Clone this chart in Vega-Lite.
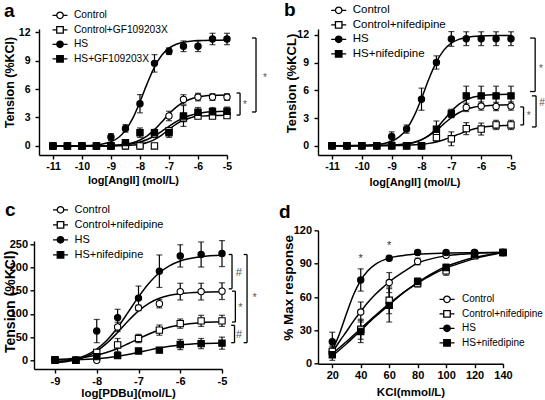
{
"$schema":"https://vega.github.io/schema/vega-lite/v6.json",
"padding":{"left":2,"top":0,"right":0,"bottom":0},
"config":{"view":{"stroke":null},"font":"Liberation Sans",
"axis":{"grid":false,"domainColor":"black","domainWidth":1.4,"tickColor":"black","tickWidth":1.4,"tickSize":4,"labelColor":"black","labelFontWeight":"bold","titleColor":"black","titleFontWeight":"bold","labelFlush":false,"labelOverlap":false},
"axisX":{"labelPadding":2,"titleBaseline":"alphabetic","labelExpr":"replace(datum.label,'\u2212','-')"},
"axisY":{"titleAngle":270,"titleBaseline":"middle","titleAlign":"center","labelExpr":"replace(datum.label,'\u2212','-')"},
"legend":{"labelColor":"black","labelFont":"Liberation Sans","rowPadding":2.5,"labelOffset":8,"padding":0,"title":null,"symbolSize":100,"symbolStrokeWidth":1.3,"symbolStrokeColor":"black",
"symbolType":{"expr":"indexof(['Control','HS'], datum.value) >= 0 ? 'M-1.5,0H-0.65M0.65,0H1.5M-0.65,0A0.65,0.65 0 1,0 0.65,0A0.65,0.65 0 1,0 -0.65,0Z' : 'M-1.5,0H-0.65M0.65,0H1.5M-0.65,-0.65H0.65V0.65H-0.65Z'"}}},
"datasets":{
"aP":[
{"s":"Control","x":-11,"y":0,"e":0},{"s":"Control","x":-10.5,"y":0,"e":0},{"s":"Control","x":-10,"y":0,"e":0},{"s":"Control","x":-9.5,"y":0,"e":0},{"s":"Control","x":-9,"y":0,"e":0},{"s":"Control","x":-8.5,"y":0,"e":0},{"s":"Control","x":-8,"y":0,"e":0},{"s":"Control","x":-7.5,"y":1.2,"e":0.3},{"s":"Control","x":-7,"y":3.16,"e":0.5},{"s":"Control","x":-6.5,"y":4.9,"e":0.5},{"s":"Control","x":-6,"y":5.15,"e":0.4},{"s":"Control","x":-5.5,"y":5.15,"e":0.35},{"s":"Control","x":-5,"y":5.15,"e":0.35},
{"s":"Control+GF109203X","x":-11,"y":0,"e":0},{"s":"Control+GF109203X","x":-10.5,"y":0,"e":0},{"s":"Control+GF109203X","x":-10,"y":0,"e":0},{"s":"Control+GF109203X","x":-9.5,"y":0,"e":0},{"s":"Control+GF109203X","x":-9,"y":0,"e":0},{"s":"Control+GF109203X","x":-8.5,"y":0,"e":0},{"s":"Control+GF109203X","x":-8,"y":0,"e":0},{"s":"Control+GF109203X","x":-7.5,"y":0,"e":0},{"s":"Control+GF109203X","x":-7,"y":1.6,"e":0.3},{"s":"Control+GF109203X","x":-6.5,"y":2.95,"e":0.4},{"s":"Control+GF109203X","x":-6,"y":3.15,"e":0.25},{"s":"Control+GF109203X","x":-5.5,"y":3.15,"e":0.25},{"s":"Control+GF109203X","x":-5,"y":3.2,"e":0.25},
{"s":"HS","x":-11,"y":0,"e":0},{"s":"HS","x":-10.5,"y":0,"e":0},{"s":"HS","x":-10,"y":0,"e":0},{"s":"HS","x":-9.5,"y":0,"e":0},{"s":"HS","x":-9,"y":0.95,"e":0.35},{"s":"HS","x":-8.5,"y":1.85,"e":0.4},{"s":"HS","x":-8,"y":4.45,"e":0.96},{"s":"HS","x":-7.5,"y":8.7,"e":0.92},{"s":"HS","x":-7,"y":9.98,"e":0.35},{"s":"HS","x":-6.5,"y":10.5,"e":0.56},{"s":"HS","x":-6,"y":10.5,"e":0.56},{"s":"HS","x":-5.5,"y":11.27,"e":0.6},{"s":"HS","x":-5,"y":11.27,"e":0.6},
{"s":"HS+GF109203X","x":-11,"y":0,"e":0},{"s":"HS+GF109203X","x":-10.5,"y":0,"e":0},{"s":"HS+GF109203X","x":-10,"y":0,"e":0},{"s":"HS+GF109203X","x":-9.5,"y":0,"e":0},{"s":"HS+GF109203X","x":-9,"y":0,"e":0},{"s":"HS+GF109203X","x":-8.5,"y":0.35,"e":0.2},{"s":"HS+GF109203X","x":-8,"y":1.4,"e":0.5},{"s":"HS+GF109203X","x":-7.5,"y":1.4,"e":0.35},{"s":"HS+GF109203X","x":-7,"y":1.4,"e":0.5},{"s":"HS+GF109203X","x":-6.5,"y":3.16,"e":1.1},{"s":"HS+GF109203X","x":-6,"y":3.55,"e":0.5},{"s":"HS+GF109203X","x":-5.5,"y":3.6,"e":0.45},{"s":"HS+GF109203X","x":-5,"y":3.65,"e":0.45}],
"aC":[
{"s":"HS","x":-11,"y":0},{"s":"HS","x":-10,"y":0.03},{"s":"HS","x":-9.5,"y":0.11},{"s":"HS","x":-9.25,"y":0.23},{"s":"HS","x":-9,"y":0.45},{"s":"HS","x":-8.75,"y":0.87},{"s":"HS","x":-8.5,"y":1.64},{"s":"HS","x":-8.25,"y":2.9},{"s":"HS","x":-8,"y":4.64},{"s":"HS","x":-7.75,"y":6.59},{"s":"HS","x":-7.5,"y":8.31},{"s":"HS","x":-7.25,"y":9.55},{"s":"HS","x":-7,"y":10.3},{"s":"HS","x":-6.75,"y":10.71},{"s":"HS","x":-6.5,"y":10.93},{"s":"HS","x":-6.25,"y":11.04},{"s":"HS","x":-6,"y":11.1},{"s":"HS","x":-5.5,"y":11.14},{"s":"HS","x":-5,"y":11.15},
{"s":"Control","x":-11,"y":0},{"s":"Control","x":-10,"y":0.01},{"s":"Control","x":-9,"y":0.06},{"s":"Control","x":-8.5,"y":0.19},{"s":"Control","x":-8.25,"y":0.35},{"s":"Control","x":-8,"y":0.63},{"s":"Control","x":-7.75,"y":1.07},{"s":"Control","x":-7.5,"y":1.72},{"s":"Control","x":-7.25,"y":2.53},{"s":"Control","x":-7,"y":3.37},{"s":"Control","x":-6.75,"y":4.09},{"s":"Control","x":-6.5,"y":4.62},{"s":"Control","x":-6.25,"y":4.95},{"s":"Control","x":-6,"y":5.15},{"s":"Control","x":-5.5,"y":5.33},{"s":"Control","x":-5,"y":5.38},
{"s":"Control+GF109203X","x":-11,"y":0},{"s":"Control+GF109203X","x":-9,"y":0.01},{"s":"Control+GF109203X","x":-8.5,"y":0.04},{"s":"Control+GF109203X","x":-8,"y":0.18},{"s":"Control+GF109203X","x":-7.75,"y":0.36},{"s":"Control+GF109203X","x":-7.5,"y":0.67},{"s":"Control+GF109203X","x":-7.25,"y":1.15},{"s":"Control+GF109203X","x":-7,"y":1.75},{"s":"Control+GF109203X","x":-6.75,"y":2.31},{"s":"Control+GF109203X","x":-6.5,"y":2.72},{"s":"Control+GF109203X","x":-6.25,"y":2.98},{"s":"Control+GF109203X","x":-6,"y":3.12},{"s":"Control+GF109203X","x":-5.5,"y":3.22},{"s":"Control+GF109203X","x":-5,"y":3.24},
{"s":"HS+GF109203X","x":-11,"y":0},{"s":"HS+GF109203X","x":-10,"y":0},{"s":"HS+GF109203X","x":-9.5,"y":0.02},{"s":"HS+GF109203X","x":-9,"y":0.05},{"s":"HS+GF109203X","x":-8.5,"y":0.14},{"s":"HS+GF109203X","x":-8,"y":0.41},{"s":"HS+GF109203X","x":-7.75,"y":0.68},{"s":"HS+GF109203X","x":-7.5,"y":1.05},{"s":"HS+GF109203X","x":-7.25,"y":1.53},{"s":"HS+GF109203X","x":-7,"y":2.06},{"s":"HS+GF109203X","x":-6.75,"y":2.56},{"s":"HS+GF109203X","x":-6.5,"y":2.96},{"s":"HS+GF109203X","x":-6.25,"y":3.24},{"s":"HS+GF109203X","x":-6,"y":3.43},{"s":"HS+GF109203X","x":-5.5,"y":3.61},{"s":"HS+GF109203X","x":-5,"y":3.67}],
"aB":[
{"x":-4.0,"x2":-4.0,"y":11.37,"y2":3.58},{"x":-4.14,"x2":-4.0,"y":11.37,"y2":11.37},{"x":-4.14,"x2":-4.0,"y":3.58,"y2":3.58},
{"x":-4.55,"x2":-4.55,"y":5.58,"y2":3.26},{"x":-4.67,"x2":-4.55,"y":5.58,"y2":5.58},{"x":-4.67,"x2":-4.55,"y":3.26,"y2":3.26}],
"aT":[{"x":-3.69,"y":7.37,"t":"*"},{"x":-4.38,"y":4.5,"t":"*"}],
"aL":[{"x":-12.69,"y":13.58,"t":"a"}],
"bP":[
{"s":"Control","x":-11,"y":0,"e":0},{"s":"Control","x":-10.5,"y":0,"e":0},{"s":"Control","x":-10,"y":0,"e":0},{"s":"Control","x":-9.5,"y":0,"e":0},{"s":"Control","x":-9,"y":0,"e":0},{"s":"Control","x":-8.5,"y":0,"e":0},{"s":"Control","x":-8,"y":0,"e":0},{"s":"Control","x":-7.5,"y":1.3,"e":0.3},{"s":"Control","x":-7,"y":3.4,"e":0.35},{"s":"Control","x":-6.5,"y":4.15,"e":0.45},{"s":"Control","x":-6,"y":4.3,"e":0.45},{"s":"Control","x":-5.5,"y":4.25,"e":0.45},{"s":"Control","x":-5,"y":4.3,"e":0.45},
{"s":"Control+nifedipine","x":-11,"y":0,"e":0},{"s":"Control+nifedipine","x":-10.5,"y":0,"e":0},{"s":"Control+nifedipine","x":-10,"y":0,"e":0},{"s":"Control+nifedipine","x":-9.5,"y":0,"e":0},{"s":"Control+nifedipine","x":-9,"y":0,"e":0},{"s":"Control+nifedipine","x":-8.5,"y":0,"e":0},{"s":"Control+nifedipine","x":-8,"y":0,"e":0},{"s":"Control+nifedipine","x":-7.5,"y":0.87,"e":0.4},{"s":"Control+nifedipine","x":-7,"y":0.75,"e":0.75},{"s":"Control+nifedipine","x":-6.5,"y":1.85,"e":0.65},{"s":"Control+nifedipine","x":-6,"y":1.8,"e":0.65},{"s":"Control+nifedipine","x":-5.5,"y":2.25,"e":0.5},{"s":"Control+nifedipine","x":-5,"y":2.25,"e":0.5},
{"s":"HS","x":-11,"y":0,"e":0},{"s":"HS","x":-10.5,"y":0,"e":0},{"s":"HS","x":-10,"y":0,"e":0},{"s":"HS","x":-9.5,"y":0,"e":0},{"s":"HS","x":-9,"y":1.0,"e":0.5},{"s":"HS","x":-8.5,"y":1.8,"e":0.45},{"s":"HS","x":-8,"y":5.04,"e":1.2},{"s":"HS","x":-7.5,"y":9.02,"e":0.72},{"s":"HS","x":-7,"y":11.57,"e":0.8},{"s":"HS","x":-6.5,"y":11.6,"e":0.75},{"s":"HS","x":-6,"y":11.6,"e":0.75},{"s":"HS","x":-5.5,"y":11.6,"e":0.75},{"s":"HS","x":-5,"y":11.6,"e":0.75},
{"s":"HS+nifedipine","x":-11,"y":0,"e":0},{"s":"HS+nifedipine","x":-10.5,"y":0,"e":0},{"s":"HS+nifedipine","x":-10,"y":0,"e":0},{"s":"HS+nifedipine","x":-9.5,"y":0,"e":0},{"s":"HS+nifedipine","x":-9,"y":0,"e":0},{"s":"HS+nifedipine","x":-8.5,"y":0,"e":0},{"s":"HS+nifedipine","x":-8,"y":0,"e":0},{"s":"HS+nifedipine","x":-7.5,"y":1.78,"e":0.9},{"s":"HS+nifedipine","x":-7,"y":3.5,"e":0.45},{"s":"HS+nifedipine","x":-6.5,"y":5.4,"e":1.05},{"s":"HS+nifedipine","x":-6,"y":5.4,"e":1.05},{"s":"HS+nifedipine","x":-5.5,"y":5.4,"e":1.05},{"s":"HS+nifedipine","x":-5,"y":5.4,"e":1.05}],
"bC":[
{"s":"HS","x":-11,"y":0},{"s":"HS","x":-10,"y":0.03},{"s":"HS","x":-9.5,"y":0.12},{"s":"HS","x":-9.25,"y":0.24},{"s":"HS","x":-9,"y":0.48},{"s":"HS","x":-8.75,"y":0.95},{"s":"HS","x":-8.5,"y":1.8},{"s":"HS","x":-8.25,"y":3.2},{"s":"HS","x":-8,"y":5.12},{"s":"HS","x":-7.75,"y":7.25},{"s":"HS","x":-7.5,"y":9.08},{"s":"HS","x":-7.25,"y":10.36},{"s":"HS","x":-7,"y":11.12},{"s":"HS","x":-6.75,"y":11.53},{"s":"HS","x":-6.5,"y":11.74},{"s":"HS","x":-6,"y":11.9},{"s":"HS","x":-5.5,"y":11.94},{"s":"HS","x":-5,"y":11.95},
{"s":"HS+nifedipine","x":-11,"y":0},{"s":"HS+nifedipine","x":-10,"y":0},{"s":"HS+nifedipine","x":-9,"y":0.04},{"s":"HS+nifedipine","x":-8.5,"y":0.17},{"s":"HS+nifedipine","x":-8.25,"y":0.33},{"s":"HS+nifedipine","x":-8,"y":0.63},{"s":"HS+nifedipine","x":-7.75,"y":1.12},{"s":"HS+nifedipine","x":-7.5,"y":1.87},{"s":"HS+nifedipine","x":-7.25,"y":2.8},{"s":"HS+nifedipine","x":-7,"y":3.73},{"s":"HS+nifedipine","x":-6.75,"y":4.48},{"s":"HS+nifedipine","x":-6.5,"y":4.97},{"s":"HS+nifedipine","x":-6.25,"y":5.27},{"s":"HS+nifedipine","x":-6,"y":5.43},{"s":"HS+nifedipine","x":-5.5,"y":5.56},{"s":"HS+nifedipine","x":-5,"y":5.59},
{"s":"Control","x":-11,"y":0},{"s":"Control","x":-10,"y":0.01},{"s":"Control","x":-9,"y":0.06},{"s":"Control","x":-8.5,"y":0.2},{"s":"Control","x":-8.25,"y":0.37},{"s":"Control","x":-8,"y":0.65},{"s":"Control","x":-7.75,"y":1.08},{"s":"Control","x":-7.5,"y":1.67},{"s":"Control","x":-7.25,"y":2.37},{"s":"Control","x":-7,"y":3.03},{"s":"Control","x":-6.75,"y":3.57},{"s":"Control","x":-6.5,"y":3.93},{"s":"Control","x":-6.25,"y":4.16},{"s":"Control","x":-6,"y":4.29},{"s":"Control","x":-5.5,"y":4.4},{"s":"Control","x":-5,"y":4.44},
{"s":"Control+nifedipine","x":-11,"y":0},{"s":"Control+nifedipine","x":-10,"y":0},{"s":"Control+nifedipine","x":-9,"y":0.02},{"s":"Control+nifedipine","x":-8.5,"y":0.05},{"s":"Control+nifedipine","x":-8,"y":0.15},{"s":"Control+nifedipine","x":-7.75,"y":0.25},{"s":"Control+nifedipine","x":-7.5,"y":0.41},{"s":"Control+nifedipine","x":-7.25,"y":0.64},{"s":"Control+nifedipine","x":-7,"y":0.93},{"s":"Control+nifedipine","x":-6.75,"y":1.25},{"s":"Control+nifedipine","x":-6.5,"y":1.55},{"s":"Control+nifedipine","x":-6.25,"y":1.8},{"s":"Control+nifedipine","x":-6,"y":1.97},{"s":"Control+nifedipine","x":-5.5,"y":2.15},{"s":"Control+nifedipine","x":-5,"y":2.22}],
"bB":[
{"x":-4.19,"x2":-4.19,"y":11.67,"y2":5.87},{"x":-4.36,"x2":-4.19,"y":11.67,"y2":11.67},{"x":-4.36,"x2":-4.19,"y":5.87,"y2":5.87},
{"x":-4.58,"x2":-4.58,"y":4.2,"y2":2.25},{"x":-4.69,"x2":-4.58,"y":4.2,"y2":4.2},{"x":-4.69,"x2":-4.58,"y":2.25,"y2":2.25},
{"x":-4.16,"x2":-4.16,"y":5.4,"y2":2.03},{"x":-4.3,"x2":-4.16,"y":5.4,"y2":5.4},{"x":-4.3,"x2":-4.16,"y":2.03,"y2":2.03}],
"bT":[{"x":-4.0,"y":8.55,"t":"*"},{"x":-4.41,"y":3.48,"t":"*"},{"x":-3.96,"y":4.86,"t":"#"}],
"bL":[{"x":-12.61,"y":14.06,"t":"b"}],
"cP":[
{"s":"Control","x":-9,"y":0,"e":0},{"s":"Control","x":-8.5,"y":0,"e":0},{"s":"Control","x":-8,"y":0,"e":0},{"s":"Control","x":-7.5,"y":72,"e":10},{"s":"Control","x":-7,"y":113,"e":6},{"s":"Control","x":-6.5,"y":122,"e":9},{"s":"Control","x":-6,"y":148,"e":18},{"s":"Control","x":-5.5,"y":148,"e":18},{"s":"Control","x":-5,"y":149,"e":18},
{"s":"Control+nifedipine","x":-9,"y":0,"e":0},{"s":"Control+nifedipine","x":-8.5,"y":0,"e":0},{"s":"Control+nifedipine","x":-8,"y":17,"e":4},{"s":"Control+nifedipine","x":-7.5,"y":33,"e":14},{"s":"Control+nifedipine","x":-7,"y":47,"e":9},{"s":"Control+nifedipine","x":-6.5,"y":65,"e":11},{"s":"Control+nifedipine","x":-6,"y":79,"e":10},{"s":"Control+nifedipine","x":-5.5,"y":85,"e":12},{"s":"Control+nifedipine","x":-5,"y":85,"e":12},
{"s":"HS","x":-9,"y":1,"e":0},{"s":"HS","x":-8.5,"y":0,"e":0},{"s":"HS","x":-8,"y":63,"e":25},{"s":"HS","x":-7.5,"y":92,"e":18},{"s":"HS","x":-7,"y":134,"e":26},{"s":"HS","x":-6.5,"y":192,"e":35},{"s":"HS","x":-6,"y":225,"e":24},{"s":"HS","x":-5.5,"y":228,"e":27},{"s":"HS","x":-5,"y":230,"e":28},
{"s":"HS+nifedipine","x":-9,"y":1,"e":0},{"s":"HS+nifedipine","x":-8.5,"y":0,"e":0},{"s":"HS+nifedipine","x":-8,"y":8,"e":2},{"s":"HS+nifedipine","x":-7.5,"y":10,"e":3},{"s":"HS+nifedipine","x":-7,"y":20,"e":3},{"s":"HS+nifedipine","x":-6.5,"y":22,"e":3},{"s":"HS+nifedipine","x":-6,"y":34,"e":11},{"s":"HS+nifedipine","x":-5.5,"y":36,"e":11},{"s":"HS+nifedipine","x":-5,"y":37,"e":13}],
"cC":[
{"s":"HS","x":-9,"y":-4.3},{"s":"HS","x":-8.75,"y":-1.5},{"s":"HS","x":-8.5,"y":3.3},{"s":"HS","x":-8.25,"y":11.3},{"s":"HS","x":-8,"y":24.3},{"s":"HS","x":-7.75,"y":43.9},{"s":"HS","x":-7.5,"y":70.7},{"s":"HS","x":-7.25,"y":103.3},{"s":"HS","x":-7,"y":136.7},{"s":"HS","x":-6.75,"y":166.2},{"s":"HS","x":-6.5,"y":188.7},{"s":"HS","x":-6.25,"y":204.2},{"s":"HS","x":-6,"y":214},{"s":"HS","x":-5.5,"y":223.4},{"s":"HS","x":-5,"y":226.5},
{"s":"Control","x":-9,"y":-5.3},{"s":"Control","x":-8.75,"y":-3},{"s":"Control","x":-8.5,"y":1.1},{"s":"Control","x":-8.25,"y":8.2},{"s":"Control","x":-8,"y":20},{"s":"Control","x":-7.75,"y":37.5},{"s":"Control","x":-7.5,"y":60.1},{"s":"Control","x":-7.25,"y":84.6},{"s":"Control","x":-7,"y":106.4},{"s":"Control","x":-6.75,"y":122.8},{"s":"Control","x":-6.5,"y":133.6},{"s":"Control","x":-6.25,"y":140},{"s":"Control","x":-6,"y":143.6},{"s":"Control","x":-5.5,"y":146.7},{"s":"Control","x":-5,"y":147.6},
{"s":"Control+nifedipine","x":-9,"y":1.6},{"s":"Control+nifedipine","x":-8.5,"y":4.4},{"s":"Control+nifedipine","x":-8.25,"y":7.1},{"s":"Control+nifedipine","x":-8,"y":11.3},{"s":"Control+nifedipine","x":-7.75,"y":17.3},{"s":"Control+nifedipine","x":-7.5,"y":25.5},{"s":"Control+nifedipine","x":-7.25,"y":35.6},{"s":"Control+nifedipine","x":-7,"y":46.3},{"s":"Control+nifedipine","x":-6.75,"y":56.6},{"s":"Control+nifedipine","x":-6.5,"y":65.2},{"s":"Control+nifedipine","x":-6.25,"y":71.7},{"s":"Control+nifedipine","x":-6,"y":76.2},{"s":"Control+nifedipine","x":-5.5,"y":81.1},{"s":"Control+nifedipine","x":-5,"y":82.9},
{"s":"HS+nifedipine","x":-9,"y":0.5},{"s":"HS+nifedipine","x":-8.5,"y":1.3},{"s":"HS+nifedipine","x":-8,"y":3.5},{"s":"HS+nifedipine","x":-7.75,"y":5.6},{"s":"HS+nifedipine","x":-7.5,"y":8.5},{"s":"HS+nifedipine","x":-7.25,"y":12.4},{"s":"HS+nifedipine","x":-7,"y":17},{"s":"HS+nifedipine","x":-6.75,"y":21.9},{"s":"HS+nifedipine","x":-6.5,"y":26.4},{"s":"HS+nifedipine","x":-6.25,"y":30.2},{"s":"HS+nifedipine","x":-6,"y":32.9},{"s":"HS+nifedipine","x":-5.5,"y":36},{"s":"HS+nifedipine","x":-5,"y":37.3}],
"cB":[
{"x":-4.76,"x2":-4.76,"y":228,"y2":154},{"x":-4.84,"x2":-4.76,"y":228,"y2":228},{"x":-4.84,"x2":-4.76,"y":154,"y2":154},
{"x":-4.68,"x2":-4.68,"y":149,"y2":82.5},{"x":-4.76,"x2":-4.68,"y":149,"y2":149},{"x":-4.76,"x2":-4.68,"y":82.5,"y2":82.5},
{"x":-4.7,"x2":-4.7,"y":75.4,"y2":38},{"x":-4.78,"x2":-4.7,"y":75.4,"y2":75.4},{"x":-4.78,"x2":-4.7,"y":38,"y2":38},
{"x":-4.4,"x2":-4.4,"y":228,"y2":38},{"x":-4.48,"x2":-4.4,"y":228,"y2":228},{"x":-4.48,"x2":-4.4,"y":38,"y2":38}],
"cT":[{"x":-4.6,"y":192,"t":"#"},{"x":-4.56,"y":117,"t":"*"},{"x":-4.59,"y":59.5,"t":"#"},{"x":-4.22,"y":138.6,"t":"*"}],
"cL":[{"x":-10.2,"y":311,"t":"c"}],
"dP":[
{"s":"Control","x":20,"y":11,"e":4},{"s":"Control","x":40,"y":46.5,"e":9},{"s":"Control","x":60,"y":73,"e":9},{"s":"Control","x":80,"y":92,"e":3},{"s":"Control","x":100,"y":97.5,"e":1.5},{"s":"Control","x":120,"y":100,"e":0},{"s":"Control","x":140,"y":100,"e":0},
{"s":"Control+nifedipine","x":20,"y":11,"e":5},{"s":"Control+nifedipine","x":40,"y":31,"e":9},{"s":"Control+nifedipine","x":60,"y":57,"e":12},{"s":"Control+nifedipine","x":80,"y":72,"e":3},{"s":"Control+nifedipine","x":100,"y":83.5,"e":4},{"s":"Control+nifedipine","x":120,"y":97,"e":1},{"s":"Control+nifedipine","x":140,"y":100,"e":0},
{"s":"HS","x":20,"y":19.8,"e":8.5},{"s":"HS","x":40,"y":75.3,"e":10},{"s":"HS","x":60,"y":94.8,"e":2},{"s":"HS","x":80,"y":100,"e":0},{"s":"HS","x":100,"y":100,"e":0},{"s":"HS","x":120,"y":100,"e":0},{"s":"HS","x":140,"y":100,"e":0},
{"s":"HS+nifedipine","x":20,"y":8,"e":5},{"s":"HS+nifedipine","x":40,"y":29,"e":10},{"s":"HS+nifedipine","x":60,"y":52.5,"e":15},{"s":"HS+nifedipine","x":80,"y":74,"e":3},{"s":"HS+nifedipine","x":100,"y":86.5,"e":3},{"s":"HS+nifedipine","x":120,"y":98,"e":1},{"s":"HS+nifedipine","x":140,"y":100,"e":0}],
"dC":[
{"s":"HS","x":20,"y":11.8},{"s":"HS","x":25,"y":26.7},{"s":"HS","x":30,"y":45.2},{"s":"HS","x":35,"y":62.3},{"s":"HS","x":40,"y":75},{"s":"HS","x":45,"y":83.7},{"s":"HS","x":50,"y":89.2},{"s":"HS","x":60,"y":95},{"s":"HS","x":70,"y":97.4},{"s":"HS","x":80,"y":98.6},{"s":"HS","x":100,"y":99.5},{"s":"HS","x":120,"y":99.8},{"s":"HS","x":140,"y":100},
{"s":"Control","x":20,"y":10},{"s":"Control","x":25,"y":20},{"s":"Control","x":30,"y":29},{"s":"Control","x":35,"y":38.5},{"s":"Control","x":40,"y":47},{"s":"Control","x":45,"y":55},{"s":"Control","x":50,"y":62},{"s":"Control","x":55,"y":68},{"s":"Control","x":60,"y":73.5},{"s":"Control","x":70,"y":82.5},{"s":"Control","x":80,"y":90.5},{"s":"Control","x":90,"y":94.5},{"s":"Control","x":100,"y":97},{"s":"Control","x":110,"y":98.4},{"s":"Control","x":120,"y":99.2},{"s":"Control","x":130,"y":99.7},{"s":"Control","x":140,"y":100},
{"s":"Control+nifedipine","x":20,"y":9},{"s":"Control+nifedipine","x":30,"y":20},{"s":"Control+nifedipine","x":40,"y":31.5},{"s":"Control+nifedipine","x":50,"y":43},{"s":"Control+nifedipine","x":60,"y":54},{"s":"Control+nifedipine","x":70,"y":64},{"s":"Control+nifedipine","x":80,"y":72.5},{"s":"Control+nifedipine","x":90,"y":80},{"s":"Control+nifedipine","x":100,"y":86},{"s":"Control+nifedipine","x":110,"y":90.5},{"s":"Control+nifedipine","x":120,"y":94.5},{"s":"Control+nifedipine","x":130,"y":97.5},{"s":"Control+nifedipine","x":140,"y":100},
{"s":"HS+nifedipine","x":20,"y":7},{"s":"HS+nifedipine","x":30,"y":18},{"s":"HS+nifedipine","x":40,"y":30},{"s":"HS+nifedipine","x":50,"y":42},{"s":"HS+nifedipine","x":60,"y":53},{"s":"HS+nifedipine","x":70,"y":64},{"s":"HS+nifedipine","x":80,"y":73},{"s":"HS+nifedipine","x":90,"y":81},{"s":"HS+nifedipine","x":100,"y":87.5},{"s":"HS+nifedipine","x":110,"y":92},{"s":"HS+nifedipine","x":120,"y":95.5},{"s":"HS+nifedipine","x":130,"y":98},{"s":"HS+nifedipine","x":140,"y":100}],
"dT":[{"x":40,"y":96,"t":"*"},{"x":60,"y":107.4,"t":"*"}],
"dL":[{"x":-17.5,"y":131.4,"t":"d"}]
},
"columns":2,
"spacing":{"row":75.3,"column":91},
"bounds":"flush",
"resolve":{"scale":{"shape":"independent","fill":"independent","x":"independent","y":"independent"},"legend":{"shape":"independent","fill":"independent"}},
"concat":[
{"width":193,"height":126,
"encoding":{
"x":{"field":"x","type":"quantitative","scale":{"domain":[-11.48,-5],"nice":false,"zero":false,"range":[5,193]},"axis":{"values":[-11,-10,-9,-8,-7,-6,-5],"title":"log[AngII] (mol/L)","labelFontSize":10.5,"titleFontSize":11,"titleY":28}},
"y":{"field":"y","type":"quantitative","scale":{"domain":[-0.95,12.32],"nice":false,"zero":false},"axis":{"values":[0,3,6,9,12],"title":"Tension (%KCl)","labelFontSize":10.5,"labelPadding":5,"offset":-5,"titleFontSize":12.5,"titleX":-30,"titleY":53}}},
"layer":[
{"data":{"name":"aC"},"mark":{"type":"line","interpolate":"monotone","color":"black","strokeWidth":1.5},"encoding":{"detail":{"field":"s"}}},
{"data":{"values":[{}]},"mark":{"type":"rule","strokeDash":[3,2],"color":"black","strokeWidth":1.2},"encoding":{"x":{"datum":-11.48},"x2":{"datum":-5},"y":{"datum":0}}},
{"data":{"name":"aP"},"transform":[{"filter":"datum.e>0"}],"mark":{"type":"errorbar","ticks":{"size":6,"color":"black"},"color":"black","thickness":1.2},"encoding":{"yError":{"field":"e"}}},
{"data":{"name":"aP"},"mark":{"type":"point","filled":true,"stroke":"black","strokeWidth":1.1,"opacity":1,"size":40},
"encoding":{
"shape":{"field":"s","type":"nominal","scale":{"domain":["HS","HS+GF109203X","Control","Control+GF109203X"],"range":["circle","square","circle","square"]},"legend":null},
"fill":{"field":"s","type":"nominal","scale":{"domain":["Control","Control+GF109203X","HS","HS+GF109203X"],"range":["white","white","black","black"]},"legend":{"orient":"none","legendX":20,"legendY":-19.7,"labelFontSize":10.2}}}},
{"data":{"name":"aB"},"mark":{"type":"rule","color":"black","strokeWidth":1.3},"encoding":{"x2":{"field":"x2"},"y2":{"field":"y2"}}},
{"data":{"name":"aT"},"mark":{"type":"text","fontSize":10,"color":"#555","baseline":"middle","dy":2},"encoding":{"text":{"field":"t"}}},
{"data":{"name":"aL"},"mark":{"type":"text","fontSize":19,"fontWeight":"bold","color":"black","align":"left","baseline":"alphabetic"},"encoding":{"text":{"field":"t"}}}
]},
{"width":193,"height":126,
"encoding":{
"x":{"field":"x","type":"quantitative","scale":{"domain":[-11.47,-5],"nice":false,"zero":false},"axis":{"values":[-11,-10,-9,-8,-7,-6,-5],"title":"log[AngII] (mol/L)","labelFontSize":10.5,"titleFontSize":11,"titleY":30}},
"y":{"field":"y","type":"quantitative","scale":{"domain":[-1.01,12.65],"nice":false,"zero":false},"axis":{"values":[0,3,6,9,12],"title":"Tension (%KCL)","labelFontSize":10.5,"labelPadding":5.5,"titleFontSize":13,"titleX":-27,"titleY":54}}},
"layer":[
{"data":{"name":"bC"},"mark":{"type":"line","interpolate":"monotone","color":"black","strokeWidth":1.5},"encoding":{"detail":{"field":"s"}}},
{"data":{"values":[{}]},"mark":{"type":"rule","strokeDash":[1.5,1.5],"color":"#aaaaaa","strokeWidth":1.2},"encoding":{"x":{"datum":-11},"x2":{"datum":-5},"y":{"datum":0}}},
{"data":{"name":"bP"},"transform":[{"filter":"datum.e>0"}],"mark":{"type":"errorbar","ticks":{"size":6,"color":"black"},"color":"black","thickness":1.2},"encoding":{"yError":{"field":"e"}}},
{"data":{"name":"bP"},"mark":{"type":"point","filled":true,"stroke":"black","strokeWidth":1.1,"opacity":1,"size":40},
"encoding":{
"shape":{"field":"s","type":"nominal","scale":{"domain":["HS","HS+nifedipine","Control","Control+nifedipine"],"range":["circle","square","circle","square"]},"legend":null},
"fill":{"field":"s","type":"nominal","scale":{"domain":["Control","Control+nifedipine","HS","HS+nifedipine"],"range":["white","white","black","black"]},"legend":{"orient":"none","legendX":14.7,"legendY":-24.7,"labelFontSize":11.5}}}},
{"data":{"name":"bB"},"mark":{"type":"rule","color":"black","strokeWidth":1.3},"encoding":{"x2":{"field":"x2"},"y2":{"field":"y2"}}},
{"data":{"name":"bT"},"mark":{"type":"text","fontSize":10,"color":"#555","baseline":"middle","dy":2},"encoding":{"text":{"field":"t"}}},
{"data":{"name":"bL"},"mark":{"type":"text","fontSize":19,"fontWeight":"bold","color":"black","align":"left","baseline":"alphabetic"},"encoding":{"text":{"field":"t"}}}
]},
{"width":188,"height":138.7,
"encoding":{
"x":{"field":"x","type":"quantitative","scale":{"domain":[-9.503,-5],"nice":false,"zero":false},"axis":{"values":[-9,-8,-7,-6,-5],"title":"log[PDBu](mol/L)","labelFontSize":11,"titleFontSize":11.5,"titleY":27.5}},
"y":{"field":"y","type":"quantitative","scale":{"domain":[-18.75,257.1],"nice":false,"zero":false,"range":[138.7,10.7]},"axis":{"values":[0,50,100,150,200,250],"title":"Tension (%KCl)","labelFontSize":11,"labelPadding":2.5,"titleFontSize":14,"titleX":-24,"titleY":71}}},
"layer":[
{"data":{"name":"cC"},"mark":{"type":"line","interpolate":"monotone","color":"black","strokeWidth":1.5},"encoding":{"detail":{"field":"s"}}},
{"data":{"values":[{}]},"mark":{"type":"rule","strokeDash":[3,2],"color":"black","strokeWidth":1.2},"encoding":{"x":{"datum":-9.503},"x2":{"datum":-5},"y":{"datum":0}}},
{"data":{"name":"cP"},"transform":[{"filter":"datum.e>0"}],"mark":{"type":"errorbar","ticks":{"size":6,"color":"black"},"color":"black","thickness":1.2},"encoding":{"yError":{"field":"e"}}},
{"data":{"name":"cP"},"mark":{"type":"point","filled":true,"stroke":"black","strokeWidth":1.1,"opacity":1,"size":40},
"encoding":{
"shape":{"field":"s","type":"nominal","scale":{"domain":["HS","HS+nifedipine","Control","Control+nifedipine"],"range":["circle","square","circle","square"]},"legend":null},
"fill":{"field":"s","type":"nominal","scale":{"domain":["Control","Control+nifedipine","HS","HS+nifedipine"],"range":["white","white","black","black"]},"legend":{"orient":"none","legendX":20.5,"legendY":-26.5,"labelFontSize":11,"rowPadding":3}}}},
{"data":{"name":"cB"},"mark":{"type":"rule","color":"black","strokeWidth":1.3},"encoding":{"x2":{"field":"x2"},"y2":{"field":"y2"}}},
{"data":{"name":"cT"},"mark":{"type":"text","fontSize":11,"color":"#555","baseline":"middle","dy":2},"encoding":{"text":{"field":"t"}}},
{"data":{"name":"cL"},"mark":{"type":"text","fontSize":19,"fontWeight":"bold","color":"black","align":"left","baseline":"alphabetic"},"encoding":{"text":{"field":"t"}}}
]},
{"width":185,"height":133.4,
"encoding":{
"x":{"field":"x","type":"quantitative","scale":{"domain":[9.95,140],"nice":false,"zero":false},"axis":{"values":[20,40,60,80,100,120,140],"title":"KCl(mmol/L)","labelFontSize":11,"titleFontSize":11.5,"titleY":32}},
"y":{"field":"y","type":"quantitative","scale":{"domain":[0,120],"nice":false,"zero":false},"axis":{"values":[0,30,60,90,120],"title":"% Max response","labelFontSize":11,"labelPadding":2.5,"titleFontSize":13.5,"titleX":-30,"titleY":57}}},
"layer":[
{"data":{"name":"dC"},"mark":{"type":"line","interpolate":"monotone","color":"black","strokeWidth":1.5},"encoding":{"detail":{"field":"s"}}},
{"data":{"name":"dP"},"transform":[{"filter":"datum.e>0"}],"mark":{"type":"errorbar","ticks":{"size":6,"color":"black"},"color":"black","thickness":1.2},"encoding":{"yError":{"field":"e"}}},
{"data":{"name":"dP"},"mark":{"type":"point","filled":true,"stroke":"black","strokeWidth":1.1,"opacity":1,"size":40},
"encoding":{
"shape":{"field":"s","type":"nominal","scale":{"domain":["HS","HS+nifedipine","Control","Control+nifedipine"],"range":["circle","square","circle","square"]},"legend":null},
"fill":{"field":"s","type":"nominal","scale":{"domain":["Control","Control+nifedipine","HS","HS+nifedipine"],"range":["white","white","black","black"]},"legend":{"orient":"none","legendX":123,"legendY":63,"labelFontSize":10,"labelOffset":9}}}},
{"data":{"name":"dT"},"mark":{"type":"text","fontSize":11,"color":"#333","baseline":"middle","dy":2},"encoding":{"text":{"field":"t"}}},
{"data":{"name":"dL"},"mark":{"type":"text","fontSize":19,"fontWeight":"bold","color":"black","align":"left","baseline":"alphabetic"},"encoding":{"text":{"field":"t"}}}
]}
]
}
